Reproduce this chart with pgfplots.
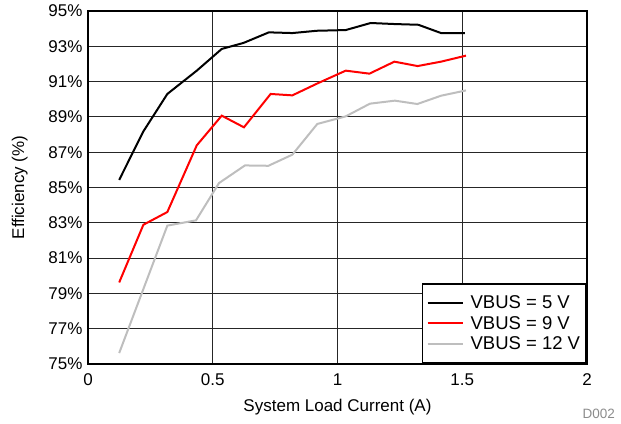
\documentclass[border=0pt]{standalone}
\usepackage{pgfplots}
\pgfplotsset{compat=1.18}
\usepackage{fontspec}
\setmainfont{Liberation Sans}
\definecolor{lgray}{RGB}{190,190,190}
\begin{document}
\begin{tikzpicture}
\useasboundingbox (-88pt,-59pt) rectangle (533pt,364pt);
\begin{axis}[
  at={(0pt,0pt)}, anchor=south west,
  scale only axis, width=499pt, height=353pt,
  xmin=0, xmax=2, ymin=75, ymax=95,
  xtick={0,0.5,1,1.5,2}, xticklabels={0,0.5,1,1.5,2},
  ytick={75,77,...,95},
  yticklabels={75\%,77\%,79\%,81\%,83\%,85\%,87\%,89\%,91\%,93\%,95\%},
  tick style={draw=none},
  grid=major,
  major grid style={black!85, line width=0.8pt},
  axis line style={draw=none},
  ticklabel style={font=\fontsize{17}{20}\selectfont},
  xticklabel style={yshift=-6pt},
  yticklabel style={xshift=-2pt},
  label style={font=\fontsize{17}{20}\selectfont},
  xlabel={System Load Current (A)},
  ylabel={Efficiency (\%)},
  xlabel style={at={(axis description cs:0.5,-0.122)}, anchor=center},
  ylabel style={at={(axis description cs:-0.137,0.5)}, anchor=center},
  legend style={at={(1,0)}, anchor=south east, draw=black, line width=1.8pt,
    font=\fontsize{18.5}{21}\selectfont, inner xsep=4pt, inner ysep=10pt,
    row sep=2pt, cells={anchor=west},
    /tikz/every odd column/.append style={column sep=5pt}},
  legend image code/.code={\draw[#1, line width=2pt] (0pt,0pt) -- (35pt,0pt);},
  after end axis/.code={\draw[line width=2.4pt] (rel axis cs:0,0) rectangle (rel axis cs:1,1);},
]
\addplot[black, line width=2pt] coordinates {
(0.125,85.43) (0.222,88.18) (0.318,90.30) (0.436,91.62) (0.536,92.85)
(0.623,93.19) (0.725,93.79) (0.819,93.75) (0.917,93.88) (1.033,93.92)
(1.133,94.32) (1.230,94.26) (1.324,94.22) (1.415,93.75) (1.511,93.75)};
\addlegendentry{VBUS = 5 V}
\addplot[red, line width=2pt] coordinates {
(0.125,79.62) (0.222,82.89) (0.318,83.61) (0.436,87.39) (0.536,89.07)
(0.625,88.41) (0.732,90.30) (0.819,90.22) (0.920,90.90) (1.033,91.62)
(1.128,91.45) (1.228,92.13) (1.321,91.88) (1.415,92.13) (1.515,92.47)};
\addlegendentry{VBUS = 9 V}
\addplot[lgray, line width=2pt] coordinates {
(0.125,75.62) (0.222,79.25) (0.318,82.84) (0.433,83.14) (0.525,85.25)
(0.629,86.25) (0.723,86.23) (0.819,86.86) (0.919,88.60) (1.033,89.03)
(1.130,89.75) (1.230,89.92) (1.320,89.73) (1.415,90.20) (1.515,90.50)};
\addlegendentry{VBUS = 12 V}
\end{axis}
\node[anchor=base east, text=black!45, font=\fontsize{13.5}{16}\selectfont, inner sep=0pt] at (527pt,-54pt) {D002};
\end{tikzpicture}
\end{document}
